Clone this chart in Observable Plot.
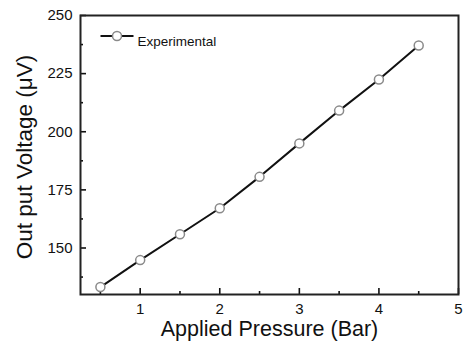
<!DOCTYPE html>
<html><head><meta charset="utf-8">
<script src="https://cdn.jsdelivr.net/npm/d3@7"></script>
<script src="https://cdn.jsdelivr.net/npm/@observablehq/plot@0.6"></script>
<style>
body{margin:0;background:#fff;}
#wrap{position:relative;width:463px;height:348px;}
</style></head><body><div id="wrap"></div>
<script>
const pressure = [0.5, 1, 1.5, 2, 2.5, 3, 3.5, 4, 4.5];
const voltage = [133.2, 144.8, 155.9, 167.1, 180.6, 195.0, 209.1, 222.5, 237.1];
const xTicks = [1, 2, 3, 4, 5];
const xMinor = [0.5, 1.5, 2.5, 3.5, 4.5];
const yTicks = [150, 175, 200, 225, 250];
const yMinor = [137.5, 162.5, 187.5, 212.5, 237.5];
const seriesName = "Experimental";
const xLabel = "Applied Pressure (Bar)";
const yLabel = "Out put Voltage (μV)";

const data = pressure.map((p, i) => ({p, v: voltage[i]}));
const font = '"Liberation Sans", Arial, Helvetica, sans-serif';
const W = 463, H = 348, mL = 80, mR = 5, mT = 15, mB = 54;
const pw = W - mL - mR, ph = H - mT - mB;

const lineSymbol = {draw(ctx) { ctx.moveTo(-16.5, 0); ctx.lineTo(16.5, 0); }};

const chart = Plot.plot({
  width: W, height: H,
  marginLeft: mL, marginRight: mR, marginTop: mT, marginBottom: mB,
  style: {fontFamily: font, background: "white", color: "#111"},
  x: {domain: [0.25, 5]},
  y: {domain: [130, 250]},
  marks: [
    Plot.ruleX(xTicks, {x: d => d, insetTop: ph - 6, stroke: "#111", strokeWidth: 1.6}),
    Plot.ruleX(xMinor, {x: d => d, insetTop: ph - 3, stroke: "#111", strokeWidth: 1.6}),
    Plot.ruleY(yTicks, {y: d => d, insetRight: pw - 6, stroke: "#111", strokeWidth: 1.6}),
    Plot.ruleY(yMinor, {y: d => d, insetRight: pw - 3, stroke: "#111", strokeWidth: 1.6}),
    Plot.axisX(xTicks, {tickSize: 0, tickPadding: 9, fontSize: 15, label: null}),
    Plot.axisY(yTicks, {tickSize: 0, tickPadding: 8, fontSize: 15, label: null}),
    Plot.text([xLabel], {frameAnchor: "bottom", dy: 41, fontSize: 21.5, fill: "#111"}),
    Plot.text([yLabel], {frameAnchor: "left", dx: -56, dy: 2, rotate: -90, textAnchor: "middle", fontSize: 22.5, fill: "#111"}),
    Plot.frame({stroke: "#222", strokeWidth: 2}),
    Plot.line(data, {x: "p", y: "v", stroke: "#111", strokeWidth: 2}),
    Plot.dot(data, {x: "p", y: "v", r: 4.5, fill: "white", stroke: "#8a8a8a", strokeWidth: 1.5}),
    Plot.dot([seriesName], {frameAnchor: "top-left", dx: 36.5, dy: 20.5, symbol: lineSymbol, stroke: "#111", strokeWidth: 2, fill: "none"}),
    Plot.dot([seriesName], {frameAnchor: "top-left", dx: 36.5, dy: 20.5, r: 4.5, fill: "white", stroke: "#8a8a8a", strokeWidth: 1.5}),
    Plot.text([seriesName], {frameAnchor: "top-left", dx: 57, dy: 20.5, textAnchor: "start", fontSize: 13.5, fill: "#111"})
  ]
});
document.getElementById("wrap").appendChild(chart);
</script></body></html>
